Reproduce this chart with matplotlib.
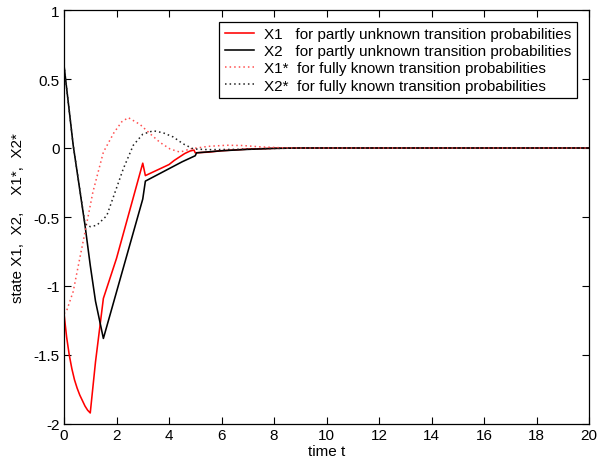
import numpy as np
import matplotlib
matplotlib.use("Agg")
import matplotlib.pyplot as plt

plt.rcParams['font.family'] = ['Liberation Sans', 'DejaVu Sans']
plt.rcParams['axes.unicode_minus'] = False

# partly unknown transition probabilities
t_x1 = [0, 0.1, 0.2, 0.3, 0.4, 0.5, 0.6, 0.7, 0.8, 0.9, 1.0, 1.2, 1.5, 2.0, 3.0, 3.1,
        4.0, 4.2, 4.4, 4.6, 4.8, 4.95, 5.0, 5.5, 6, 7, 8, 9, 20]
x1 = [-1.2, -1.37, -1.5, -1.6, -1.68, -1.74, -1.79, -1.83, -1.87, -1.9, -1.92, -1.55,
      -1.09, -0.80, -0.11, -0.20, -0.12, -0.09, -0.065, -0.04, -0.022, -0.015, -0.035,
      -0.03, -0.02, -0.008, -0.002, 0, 0]

t_x2 = [0, 0.35, 0.8, 1.0, 1.2, 1.5, 3.0, 3.1, 4.0, 4.5, 5.0, 5.05, 6, 7, 8, 9, 20]
x2 = [0.6, 0.02, -0.56, -0.85, -1.11, -1.38, -0.37, -0.24, -0.15, -0.10, -0.056,
      -0.035, -0.02, -0.01, -0.003, 0, 0]

# fully known transition probabilities
t_x1s = [0, 0.1, 0.35, 0.6, 0.8, 1.1, 1.5, 1.9, 2.2, 2.45, 2.9, 3.3, 3.66, 4.04, 4.42,
         4.8, 5.05, 5.5, 6.2, 6.8, 7.5, 8.5, 20]
x1s = [-1.2, -1.18, -1.04, -0.80, -0.61, -0.32, -0.03, 0.11, 0.19, 0.22, 0.17, 0.10,
       0.04, -0.007, -0.03, -0.007, 0.0, 0.012, 0.02, 0.018, 0.008, 0.0, 0]

t_x2s = [0, 0.35, 0.8, 1.0, 1.25, 1.63, 2.26, 2.64, 3.0, 3.4, 3.78, 4.16, 4.54, 4.93,
         5.5, 6.5, 7.5, 9, 20]
x2s = [0.6, 0.02, -0.55, -0.57, -0.56, -0.49, -0.15, 0.02, 0.10, 0.125, 0.11, 0.08,
       0.03, -0.007, -0.012, -0.01, -0.005, 0, 0]

labels = ["X1   for partly unknown transition probabilities",
          "X2   for partly unknown transition probabilities",
          "X1*  for fully known transition probabilities",
          "X2*  for fully known transition probabilities"]

fig = plt.figure(figsize=(6.04, 4.64), dpi=100)
ax = fig.add_axes([64 / 604, 1 - 425 / 464, 525 / 604, 414 / 464])

ax.plot(t_x1, x1, color='red', lw=1.15, label=labels[0])
ax.plot(t_x2, x2, color='black', lw=1.15, label=labels[1])
ax.plot(t_x1s, x1s, color='#ff5050', lw=1.1, ls=(0, (1, 2)), label=labels[2])
ax.plot(t_x2s, x2s, color='#202020', lw=1.1, ls=(0, (1, 2)), label=labels[3])

ax.set_xlim(0, 20)
ax.set_ylim(-2, 1)
ax.set_xticks(np.arange(0, 21, 2))
ax.set_yticks(np.arange(-2, 1.01, 0.5))
ax.set_yticklabels(['-2', '-1.5', '-1', '-0.5', '0', '0.5', '1'])
ax.tick_params(direction='in', top=True, right=True, length=5, width=0.8,
               labelsize=11, pad=3)
for s in ax.spines.values():
    s.set_linewidth(0.9)

ax.set_xlabel("time t", fontsize=11, labelpad=1)
ax.set_ylabel("state X1,  X2,    X1*,  X2*", fontsize=11, labelpad=6)

leg = ax.legend(loc='upper right', bbox_to_anchor=(0.977, 0.971), borderaxespad=0,
                fontsize=11, fancybox=False, framealpha=1, edgecolor='black',
                handlelength=1.9, handletextpad=0.7, borderpad=0.35, labelspacing=0.2)
leg.get_frame().set_linewidth(0.9)

fig.savefig("out.png", dpi=100)
